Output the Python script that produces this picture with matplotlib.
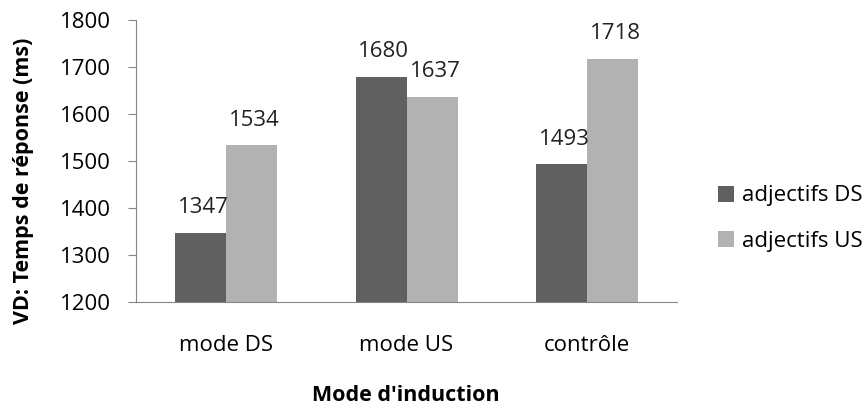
import matplotlib
matplotlib.use("Agg")
import matplotlib.pyplot as plt
import numpy as np

plt.rcParams['font.family'] = ['Open Sans', 'DejaVu Sans']

categories = ["mode DS", "mode US", "contrôle"]
adj_ds = [1347, 1680, 1493]
adj_us = [1534, 1637, 1718]

fig = plt.figure(figsize=(8.66, 4.11), dpi=100)
ax = fig.add_axes([0.157, 0.265, 0.625, 0.686])

x = np.arange(len(categories))
w = 0.283
b1 = ax.bar(x - w / 2, adj_ds, w, color="#606060", label="adjectifs DS")
b2 = ax.bar(x + w / 2, adj_us, w, color="#b2b2b2", label="adjectifs US")

for bars, vals in [(b1, adj_ds), (b2, adj_us)]:
    for r, v in zip(bars, vals):
        ax.annotate(str(v), (r.get_x() + r.get_width() / 2, v),
                    xytext=(2, 10.5), textcoords="offset points",
                    ha="center", va="bottom", fontsize=16, color="#222222")

ax.set_ylim(1200, 1800)
ax.set_xlim(-0.5, 2.5)
ax.set_yticks(range(1200, 1801, 100))
ax.set_xticks(x)
ax.set_xticklabels(categories)
ax.tick_params(axis="y", labelsize=16, length=6, color="#868686", pad=12)
ax.tick_params(axis="x", labelsize=16, length=0, pad=24)
for s in ["top", "right"]:
    ax.spines[s].set_visible(False)
for s in ["left", "bottom"]:
    ax.spines[s].set_color("#868686")

fig.text(0.0266, 0.56, "VD: Temps de réponse (ms)", rotation=90,
         ha="center", va="center", fontsize=15.5, fontweight="bold")
fig.text(0.469, 0.0365, "Mode d'induction", ha="center", va="center",
         fontsize=15.5, fontweight="bold")

fig.legend(handles=[b1, b2], loc="center left", bbox_to_anchor=(0.829, 0.468),
           frameon=False, fontsize=16, handlelength=0.72, handleheight=0.72,
           handletextpad=0.35, labelspacing=1.1, borderpad=0, borderaxespad=0)

fig.savefig("out.png", dpi=100)
